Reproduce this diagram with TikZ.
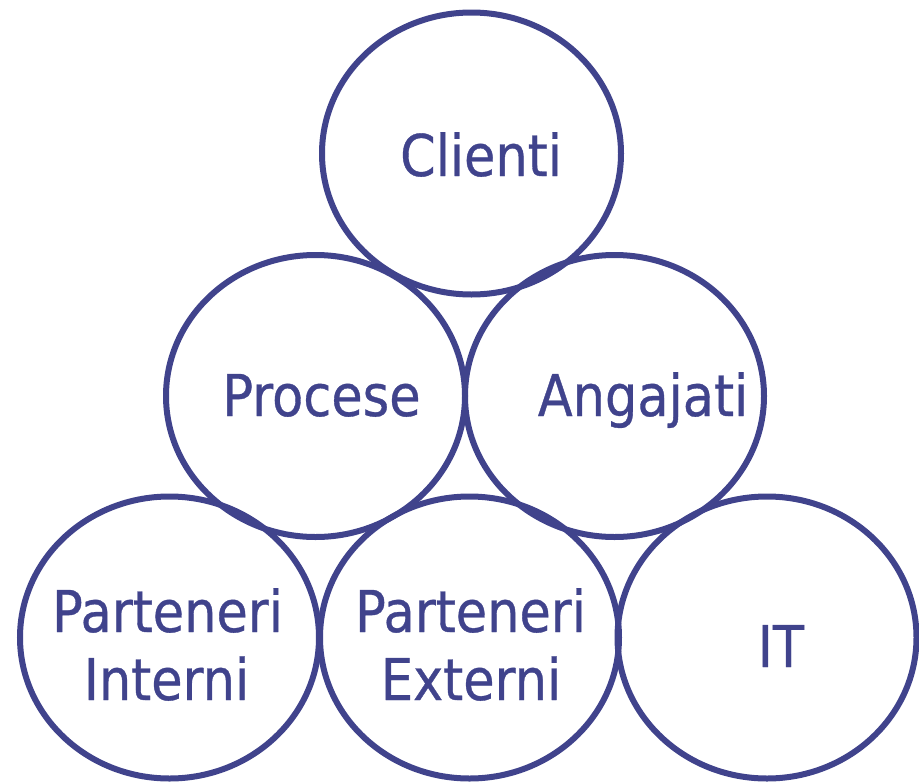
\documentclass[tikz,border=0pt]{standalone}
\usepackage{fontspec}
\setmainfont{DejaVu Sans}[FakeStretch=0.885,FakeBold=0.6]
\usetikzlibrary{shapes.geometric}
\definecolor{cblue}{RGB}{64,67,140}
\begin{document}
\begin{tikzpicture}[x=1pt,y=-1pt,
  ring/.style={draw=cblue, line width=6pt, ellipse, minimum width=299pt, minimum height=282pt, inner sep=0pt},
  lbl/.style={text=cblue, font=\fontsize{57.6}{68}\selectfont, anchor=base, inner sep=0pt}]
\useasboundingbox (0,0) rectangle (919,782);
\node[ring] (clienti) at (471.5,153.5) {};
\node[ring] (procese) at (315.5,396) {};
\node[ring] (angajati) at (614.5,396) {};
\node[ring] (pint) at (169.5,637.5) {};
\node[ring] (pext) at (469.5,637.5) {};
\node[ring] (it) at (767,637.5) {};
\node[lbl] (tclienti) at (481,176) {Clienti};
\node[lbl] (tprocese) at (321.5,416) {Procese};
\node[lbl] (tangajati) at (643,416) {Angajati};
\node[lbl] (tpint1) at (167.5,632) {Parteneri};
\node[lbl] (tpint2) at (166.5,700) {Interni};
\node[lbl] (tpext1) at (470.5,632) {Parteneri};
\node[lbl] (tpext2) at (471,700) {Externi};
\node[lbl] (tit) at (781,667) {IT};
\end{tikzpicture}
\end{document}
